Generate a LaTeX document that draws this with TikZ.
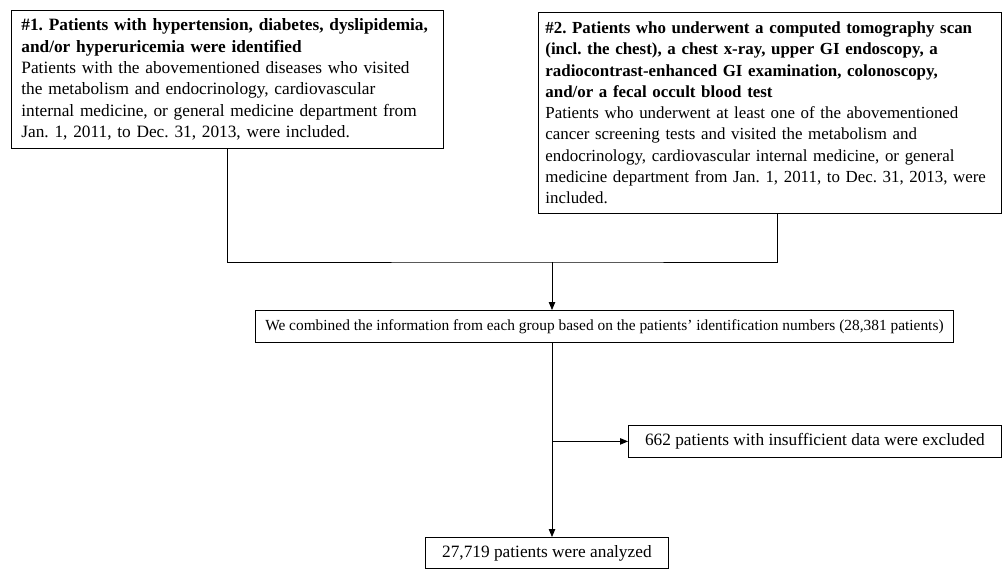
\documentclass[tikz,border=0pt]{standalone}
\usepackage{fontspec}
\setmainfont{Liberation Serif}
\usetikzlibrary{arrows.meta}
\tikzset{
  box/.style = {draw, line width=0.8pt, anchor=north west, align=left,
                inner xsep=#1, inner ysep=2pt,
                font=\fontsize{17.3}{21.3}\selectfont\frenchspacing},
  box/.default = 8pt,
  flow/.style = {line width=0.8pt, -{Triangle[length=8pt,width=6.5pt]}}
}

\begin{document}
\begin{tikzpicture}[x=1pt, y=-1pt]
	\useasboundingbox (0,0) rectangle (1003,570);

	% Groups
	\node[box=10pt, text width=412pt, minimum height=138pt] (hyper) at (11,10)
		{\textbf{\#1. Patients with hypertension, diabetes, dyslipidemia,}\\
		 \textbf{and/or hyperuricemia were identified}\\
		 Patients with the abovementioned diseases who visited\\
		 the metabolism and endocrinology, cardiovascular\\
		 internal medicine, or general medicine department from\\
		 Jan. 1, 2011, to Dec. 31, 2013, were included.};
	\node[box=7pt, text width=449pt, minimum height=201pt,
		font=\fontsize{16.9}{21.3}\selectfont\frenchspacing] (screen) at (538,12)
		{\textbf{\#2. Patients who underwent a computed tomography scan}\\
		 \textbf{(incl. the chest), a chest x-ray, upper GI endoscopy, a}\\
		 \textbf{radiocontrast-enhanced GI examination, colonoscopy,}\\
		 \textbf{and/or a fecal occult blood test}\\
		 Patients who underwent at least one of the abovementioned\\
		 cancer screening tests and visited the metabolism and\\
		 endocrinology, cardiovascular internal medicine, or general\\
		 medicine department from Jan. 1, 2011, to Dec. 31, 2013, were\\
		 included.};

	% Combined
	\node[box, minimum width=698pt, minimum height=32pt,
		font=\fontsize{15.4}{18}\selectfont] (merged) at (255,310)
		{We combined the information from each group based on the patients' identification numbers (28,381 patients)};
	\node[box, minimum width=373pt, minimum height=32pt] (excluded) at (628,425)
		{662 patients with insufficient data were excluded};
	\node[box, minimum width=243pt, minimum height=31pt] (analyzed) at (425,537)
		{27,719 patients were analyzed};

	% Connectors
	\coordinate (join) at (552,262);
	\coordinate (split) at (join |- excluded.west);
	\draw[line width=0.8pt] (hyper.south) |- (join) -| ([xshift=7pt]screen.south);
	\draw[flow] (join) -- (join |- merged.north);
	\draw[flow] (join |- merged.south) -- (join |- analyzed.north);
	\draw[flow] (split) -- (excluded.west);
\end{tikzpicture}
\end{document}
